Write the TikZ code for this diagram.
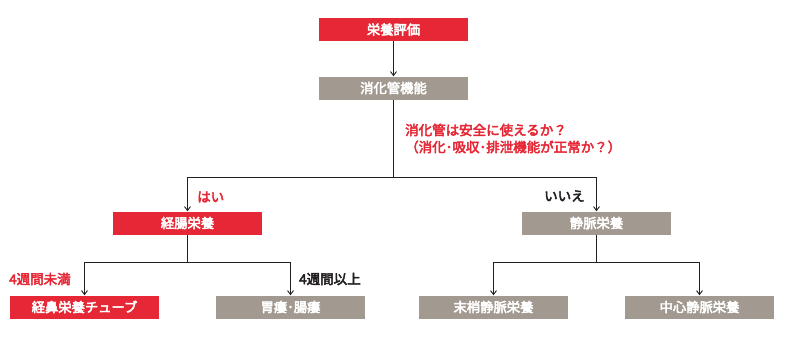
\documentclass[tikz,border=0pt]{standalone}
\usepackage{fontspec}
\setmainfont{Noto Sans CJK JP}[FakeBold=3.5]
\usetikzlibrary{arrows.meta}
\definecolor{nred}{HTML}{E62836}
\definecolor{ngray}{HTML}{A29A91}
\definecolor{nline}{HTML}{231F20}
\begin{document}
\begin{tikzpicture}[x=1pt,y=-1pt,
  box/.style={minimum width=149pt,minimum height=23pt,inner sep=0pt,text=white,font=\fontsize{13.3}{14}\selectfont},
  redbox/.style={box,fill=nred},
  graybox/.style={box,fill=ngray},
  conn/.style={draw=nline,line width=0.9pt},
  arr/.style={conn,-{Straight Barb[length=4pt,width=6pt,line width=0.9pt]}},
  lbl/.style={font=\fontsize{13.5}{17}\selectfont,inner sep=0pt},
]
\useasboundingbox (0,0) rectangle (786,341);
\node[redbox] (eval) at (393.5,29.5) {栄養評価};
\node[graybox] (gi) at (393.5,88) {消化管機能};
\node[redbox] (ent) at (187.5,223) {経腸栄養};
\node[graybox] (pn) at (596.5,223) {静脈栄養};
\node[redbox] (ng) at (84.5,307) {経鼻栄養チューブ};
\node[graybox] (peg) at (290.5,307) {胃瘻･腸瘻};
\node[graybox] (ppn) at (493.5,307) {末梢静脈栄養};
\node[graybox] (tpn) at (699.5,307) {中心静脈栄養};
\coordinate (j1) at (393.5,177);
\coordinate (j2) at (187.5,262);
\coordinate (j3) at (596.5,262);
\draw[arr] (eval) -- (gi);
\draw[conn] (gi) -- (j1);
\draw[arr] (j1) -| (ent);
\draw[arr] (j1) -| (pn);
\draw[conn] (ent) -- (j2);
\draw[arr] (j2) -| (ng);
\draw[arr] (j2) -| (peg);
\draw[conn] (pn) -- (j3);
\draw[arr] (j3) -| (ppn);
\draw[arr] (j3) -| (tpn);
\node[lbl,text=nred,anchor=west] (q1) at (405,130) {消化管は安全に使えるか？};
\node[lbl,text=nred,anchor=west] (q2) at (405,147) {（消化･吸収･排泄機能が正常か？）};
\node[lbl,text=nred,anchor=west] (yes) at (197,197) {はい};
\node[lbl,text=nline,anchor=west] (no) at (544,196) {いいえ};
\node[lbl,text=nred,anchor=west] (lt4) at (9,279) {4週間未満};
\node[lbl,text=nline,anchor=west] (ge4) at (299,279) {4週間以上};
\end{tikzpicture}
\end{document}
